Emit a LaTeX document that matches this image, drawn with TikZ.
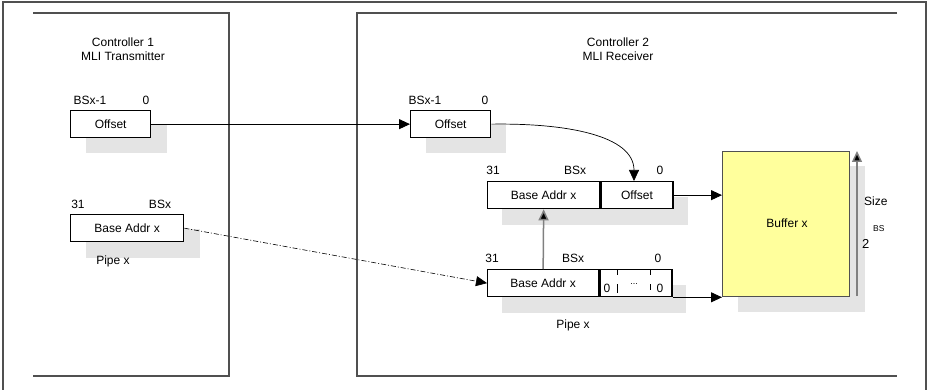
\documentclass[tikz,border=0pt]{standalone}
\usepackage{fontspec}
\setmainfont{Liberation Sans}
\usetikzlibrary{arrows.meta}
\definecolor{shade}{HTML}{E4E4E4}
\definecolor{framegray}{HTML}{505050}
\definecolor{bufyellow}{HTML}{FFFF9C}
\begin{document}
\begin{tikzpicture}[x=1pt,y=-1pt,
  every node/.style={font=\fontsize{12}{13.5}\selectfont, inner sep=0pt},
  reg/.style={draw=black, line width=1.3pt, fill=white, anchor=north west,
              minimum height=27pt},
  shadowbox/.style={fill=shade, draw=none},
  frame/.style={draw=framegray, line width=1.5pt},
  tip/.style={-{Triangle[length=11pt,width=10pt,fill=black]}},
  arr/.style={tip, line width=0.9pt},
]
\useasboundingbox (0,0) rectangle (928,390);
\fill[white] (0,0) rectangle (928,390);

% outer frame and controller panels
\draw[frame] (3,390) -- (3,2) -- (926,2) -- (926,390);
\draw[frame] (33,13) -- (229,13) -- (229,376) -- (33,376);
\draw[frame] (897,13) -- (357,13) -- (357,376) -- (897,376);

\node[align=center] (c1) at (123,49) {Controller 1\\MLI Transmitter};
\node[align=center] (c2) at (618,49) {Controller 2\\MLI Receiver};

% ---- transmitter registers ----
\fill[shadowbox] (86,125) rectangle (167,153);
\node[reg, minimum width=80pt] (toff) at (70,110) {Offset};
\node (toffa) at (90,100) {BSx-1};
\node (toffb) at (146,100) {0};

\fill[shadowbox] (86,229) rectangle (200,258);
\node[reg, minimum width=113pt] (tbase) at (70,214) {Base Addr x};
\node (tbasea) at (78,204) {31};
\node (tbaseb) at (160,204) {BSx};
\node (tpipe) at (113,261) {Pipe x};

% ---- receiver registers ----
\fill[shadowbox] (426,125) rectangle (506,153);
\node[reg, minimum width=80pt] (roff) at (410,110) {Offset};
\node (roffa) at (425,100) {BSx-1};
\node (roffb) at (485,100) {0};

% combined address register
\fill[shadowbox] (502,197) rectangle (688,225);
\node[reg, minimum width=112pt] (cbase) at (487,181) {Base Addr x};
\node[reg, minimum width=72pt, anchor=north west] (coff) at (cbase.north east) {Offset};
\node (cbasea) at (493,170) {31};
\node (cbaseb) at (575,170) {BSx};
\node (coffb) at (660,170) {0};

% pipe register
\fill[shadowbox] (502,285) rectangle (686,313);
\node[reg, minimum width=111pt] (pbase) at (487,269) {Base Addr x};
\node[reg, minimum width=72pt, anchor=north west] (pzero) at (pbase.north east) {};
\node (pz1) at (607,288) {0};
\node[font=\fontsize{9}{10}\selectfont] (pzd) at (634,284) {...};
\node (pz2) at (660,288) {0};
\draw[line width=0.7pt] (617,270) -- (617,275) (617,284) -- (617,293)
                        (650,270) -- (650,275) (650,284) -- (650,290);
\node (pbasea) at (492,258) {31};
\node (pbaseb) at (573,258) {BSx};
\node (pzerob) at (658,258) {0};
\node (ppipe) at (573,325) {Pipe x};

% buffer
\fill[shadowbox] (738,166) rectangle (865,312);
\node[draw=framegray, line width=1.1pt, fill=bufyellow, anchor=north west,
      minimum width=127pt, minimum height=145pt] (buf) at (722,151) {};
\node (buftxt) at (787,223) {Buffer x};
\coordinate (sizebot) at (857,296);
\coordinate (sizetop) at (857,151);
\draw[draw=gray, line width=1.5pt, tip] (sizebot) -- (sizetop);
\node[anchor=west] (size) at (864,201) {Size};
\node[anchor=west, font=\fontsize{13}{14}\selectfont] (sz2) at (862,244) {2};
\node[anchor=west, font=\fontsize{8.5}{9}\selectfont] (szbs) at (873,229) {BS};

% ---- connectors ----
\draw[arr] (toff.east) -- (roff.west);
\draw[arr, line width=0.7pt] (roff.east) .. controls (565,123) and (634,135) .. (634,181);
\draw[arr] (coff.east) -- (coff.east -| buf.west);
\coordinate (pout) at (pzero.south east);
\draw[arr] (pout) -- (pout -| buf.west);
\draw[draw=gray, line width=1.5pt, tip] (pbase.north) -- (cbase.south);
\draw[line width=0.6pt, dash pattern=on 5pt off 2pt on 1pt off 2pt, tip]
  (tbase.east) -- (pbase.west);
\end{tikzpicture}
\end{document}
